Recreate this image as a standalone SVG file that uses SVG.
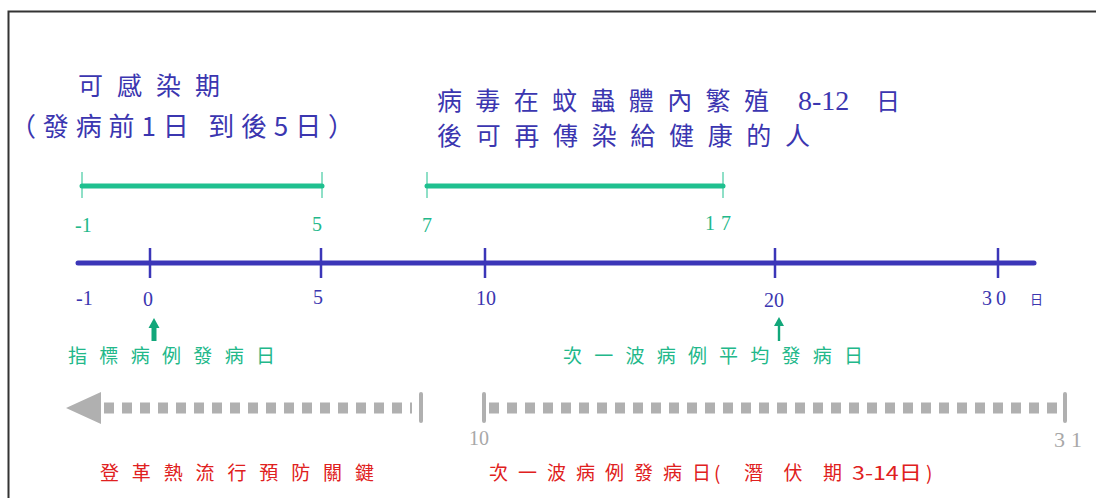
<svg xmlns="http://www.w3.org/2000/svg" width="1096" height="498" viewBox="0 0 1096 498">
<style>
.cjk{font-family:"Noto Sans CJK TC","Noto Sans CJK SC",sans-serif}
.num{font-family:"Liberation Serif",serif}
.blue{fill:#3b36b0}
.green{fill:#22b88a}
.red{fill:#e02020}
.gray{fill:#a8a8a8}
.axis{stroke:#3b36b8;fill:none}
.gbar{stroke:#1fc08f;fill:none}
.dash{stroke:#b0b0b0;fill:none}
.arr{fill:#12a77a}
</style>
<rect width="1096" height="498" fill="#fff"/>
<path d="M8.5,498 V11.5 H1096" stroke="#333" stroke-width="2" fill="none"/>

<g id="title-left">
<text class="cjk blue" x="78" y="95" font-size="25" textLength="142" lengthAdjust="spacing">可感染期</text>
<text class="cjk blue" x="10" y="136" font-size="26" textLength="344" lengthAdjust="spacing">（發病前1日 到後5日）</text>
</g>
<g id="title-right">
<text class="cjk blue" x="437" y="110" font-size="25" textLength="332" lengthAdjust="spacing">病毒在蚊蟲體內繁殖</text>
<text class="num blue" x="798" y="110" font-size="28">8-12</text>
<text class="cjk blue" x="876" y="110" font-size="24">日</text>
<text class="cjk blue" x="437" y="145" font-size="25" textLength="373" lengthAdjust="spacing">後可再傳染給健康的人</text>
</g>

<g id="infectious-period">
<path class="gbar" stroke-width="5" stroke-linecap="round" d="M82,186 H322"/>
<path class="gbar" stroke-width="1" d="M82,172 V198 M322,172 V198"/>
<text class="num green" x="75" y="232" font-size="20">-1</text>
<text class="num green" x="312" y="231" font-size="20">5</text>
</g>
<g id="mosquito-period">
<path class="gbar" stroke-width="5" stroke-linecap="round" d="M427,186 H723"/>
<path class="gbar" stroke-width="1" d="M427,172 V198 M723,172 V198"/>
<text class="num green" x="422" y="232" font-size="20">7</text>
<text class="num green" x="705" y="230" font-size="20" textLength="26" lengthAdjust="spacing">17</text>
</g>

<g id="main-axis">
<path class="axis" stroke-width="5" stroke-linecap="round" d="M78,263 H1034"/>
<path class="axis" stroke-width="2.5" d="M150,248 V278 M321,248 V278 M485,248 V278 M775,248 V278 M998,248 V278"/>
<text class="num blue" x="76" y="305" font-size="20">-1</text>
<text class="num blue" x="143" y="306" font-size="20">0</text>
<text class="num blue" x="313" y="304" font-size="20">5</text>
<text class="num blue" x="476" y="305" font-size="20">10</text>
<text class="num blue" x="764" y="307" font-size="20">20</text>
<text class="num blue" x="982" y="305" font-size="20" textLength="24" lengthAdjust="spacing">30</text>
<text class="cjk blue" x="1030" y="304" font-size="13">日</text>
</g>

<g id="index-case">
<path class="arr" d="M154,318 L159.5,328 L156.5,328 L156.5,341 L151.5,341 L151.5,328 L148.5,328 Z"/>
<text class="cjk green" x="68" y="363" font-size="19" textLength="207" lengthAdjust="spacing">指標病例發病日</text>
</g>
<g id="next-wave">
<path class="arr" d="M779,317 L784,326 L780.2,326 L780.2,341 L777.8,341 L777.8,326 L774,326 Z"/>
<text class="cjk green" x="563" y="363" font-size="19" textLength="300" lengthAdjust="spacing">次一波病例平均發病日</text>
</g>

<g id="prevention">
<path d="M66,408 L101,392 L101,424 Z" fill="#b0b0b0"/>
<path class="dash" stroke-width="11" stroke-dasharray="10,8" d="M104,408 H412"/>
<path class="dash" stroke-width="4" stroke-linecap="round" d="M421,394 V421"/>
<text class="cjk red" x="100" y="480" font-size="19" textLength="274" lengthAdjust="spacing">登革熱流行預防關鍵</text>
</g>
<g id="incubation">
<path class="dash" stroke-width="4" stroke-linecap="round" d="M484,394 V421 M1065,394 V421"/>
<path class="dash" stroke-width="11" stroke-dasharray="10,8" d="M489,408 H1062"/>
<text class="num gray" x="469" y="445" font-size="20">10</text>
<text class="num gray" x="1054" y="447" font-size="22" textLength="28" lengthAdjust="spacing">31</text>
<text class="cjk red" font-size="19" y="480"><tspan x="489" textLength="222" lengthAdjust="spacing">次一波病例發病日</tspan><tspan x="714">(</tspan><tspan x="744" textLength="98" lengthAdjust="spacing">潛伏期</tspan><tspan x="852" textLength="70" lengthAdjust="spacingAndGlyphs">3-14日</tspan><tspan x="926">)</tspan></text>
</g>
</svg>
